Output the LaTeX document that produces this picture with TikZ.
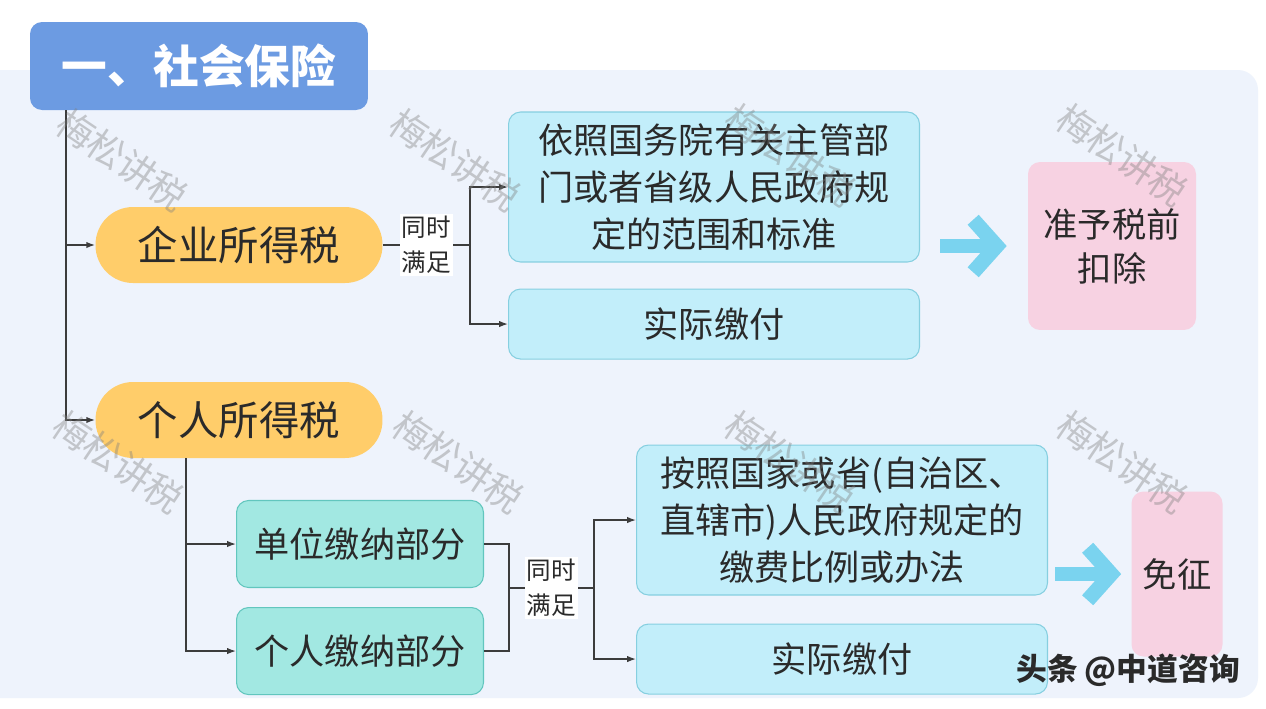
\documentclass[tikz,border=0pt]{standalone}
\usepackage{fontspec}
\setmainfont{Noto Sans CJK SC}
\usetikzlibrary{arrows.meta,positioning}
\definecolor{panelbg}{HTML}{EEF3FC}
\definecolor{titleblue}{HTML}{6C9BE2}
\definecolor{pillorange}{HTML}{FFCD6A}
\definecolor{boxcyan}{HTML}{C2EEFA}
\definecolor{boxcyanline}{HTML}{86CFE0}
\definecolor{partteal}{HTML}{A2E8E2}
\definecolor{parttealline}{HTML}{62C6BE}
\definecolor{resultpink}{HTML}{F7D2E2}
\definecolor{arrowblue}{HTML}{7AD3EF}
\definecolor{linkgray}{HTML}{3C3C3C}
\definecolor{textdark}{HTML}{2A2A2A}
\begin{document}
\begin{tikzpicture}
[x=0.02cm, y=-0.02cm, node distance=0.5cm, font=\fontsize{20pt}{26.6pt}\selectfont]
\tikzstyle{heading}=[rectangle, rounded corners=0.24cm, fill=titleblue, text=white, font=\fontsize{26pt}{30pt}\selectfont\bfseries, minimum width=6.76cm, minimum height=1.76cm]
\tikzstyle{pill}=[rectangle, rounded corners=0.75cm, fill=pillorange, text=textdark, font=\fontsize{23pt}{28pt}\selectfont, minimum width=5.74cm, minimum height=1.52cm]
\tikzstyle{infobox}=[rectangle, rounded corners=0.24cm, fill=boxcyan, draw=boxcyanline, line width=0.6pt, text=textdark, align=center, minimum width=8.22cm]
\tikzstyle{partbox}=[rectangle, rounded corners=0.24cm, fill=partteal, draw=parttealline, line width=0.6pt, text=textdark, minimum width=4.94cm, minimum height=1.74cm]
\tikzstyle{resultbox}=[rectangle, rounded corners=0.24cm, fill=resultpink, text=textdark, align=center, font=\fontsize{19.5pt}{25pt}\selectfont]
\tikzstyle{cond}=[fill=white, inner sep=1pt, align=center, text=textdark, font=\fontsize{14pt}{20pt}\selectfont]
\tikzstyle{link}=[draw=linkgray, line width=0.8pt]
\tikzstyle{linkarrow}=[link, -{Latex[length=5pt,width=3.6pt]}]
\tikzstyle{bigarrow}=[draw=arrowblue, line width=8.5pt, -{Straight Barb[length=0.47cm,width=1.05cm]}]
\tikzstyle{watermark}=[text=gray, opacity=0.4, rotate=-34, font=\fontsize{21pt}{24pt}\selectfont]
\tikzstyle{credit}=[text=textdark, font=\fontsize{17.5pt}{20pt}\selectfont\bfseries]
\useasboundingbox (0,0) rectangle (1266,708);
\fill[white] (0,0) rectangle (1266,708);
\fill[panelbg, rounded corners=0.4cm] (-20,70) rectangle (1258,698);

\node[heading]	(title)	at (199,66)	{一、社会保险};
\node[pill]	(qysd)	at (239,245)	{企业所得税};
\node[pill]	(grsd)	at (239,420)	{个人所得税};
\node[infobox, minimum height=3cm]	(rangeA)	at (714,187)	{依照国务院有关主管部\\门或者省级人民政府规\\定的范围和标准};
\node[infobox, minimum height=1.4cm]	(payA)	[below=0.52cm of rangeA]	{实际缴付};
\node[resultbox, minimum width=3.36cm, minimum height=3.36cm]	(deduct)	at (1112,246)	{准予税前\\扣除};
\node[partbox]	(unitpart)	at (360,544)	{单位缴纳部分};
\node[partbox]	(selfpart)	[below=0.38cm of unitpart]	{个人缴纳部分};
\node[infobox, minimum height=3cm]	(rangeB)	at (842,520)	{按照国家或省(自治区、\\直辖市)人民政府规定的\\缴费比例或办法};
\node[infobox, minimum height=1.4cm]	(payB)	[below=0.56cm of rangeB]	{实际缴付};
\node[resultbox, minimum width=1.82cm, minimum height=3.3cm]	(exempt)	at (1177,574)	{免征};

\coordinate (trunk)	at (66,110);
\coordinate (forkA)	at (470,245);
\coordinate (trunkB)	at (186,458);
\coordinate (mergeB)	at (509,588);
\coordinate (forkB)	at (594,588);

\draw[linkarrow]	(trunk) |- (qysd.west);
\draw[linkarrow]	(trunk) |- (grsd.west);
\draw[link]	(qysd.east) -- node[cond] {同时\\满足} (forkA);
\draw[linkarrow]	(forkA) |- (rangeA.west);
\draw[linkarrow]	(forkA) |- (payA.west);
\draw[linkarrow]	(trunkB) |- (unitpart.west);
\draw[linkarrow]	(trunkB) |- (selfpart.west);
\draw[link]	(unitpart.east) -| (mergeB) |- (selfpart.east);
\draw[link]	(mergeB) -- node[cond] {同时\\满足} (forkB);
\draw[linkarrow]	(forkB) |- (rangeB.west);
\draw[linkarrow]	(forkB) |- (payB.west);
\draw[bigarrow]	([xshift=0.4cm]rangeA.east |- deduct.west) -- ([xshift=-0.42cm]deduct.west);
\draw[bigarrow]	([xshift=0.14cm]rangeB.east |- exempt.west) -- ([xshift=-0.2cm]exempt.west);

\node[watermark]	(wm1)	at (122,160)	{梅松讲税};
\node[watermark]	(wm2)	at (455,160)	{梅松讲税};
\node[watermark]	(wm3)	at (790,155)	{梅松讲税};
\node[watermark]	(wm4)	at (1122,155)	{梅松讲税};
\node[watermark]	(wm5)	at (118,462)	{梅松讲税};
\node[watermark]	(wm6)	at (458,462)	{梅松讲税};
\node[watermark]	(wm7)	at (790,462)	{梅松讲税};
\node[watermark]	(wm8)	at (1122,462)	{梅松讲税};
\node[credit]	(source)	at (1128,670)	{头条 @中道咨询};
\end{tikzpicture}
\end{document}
